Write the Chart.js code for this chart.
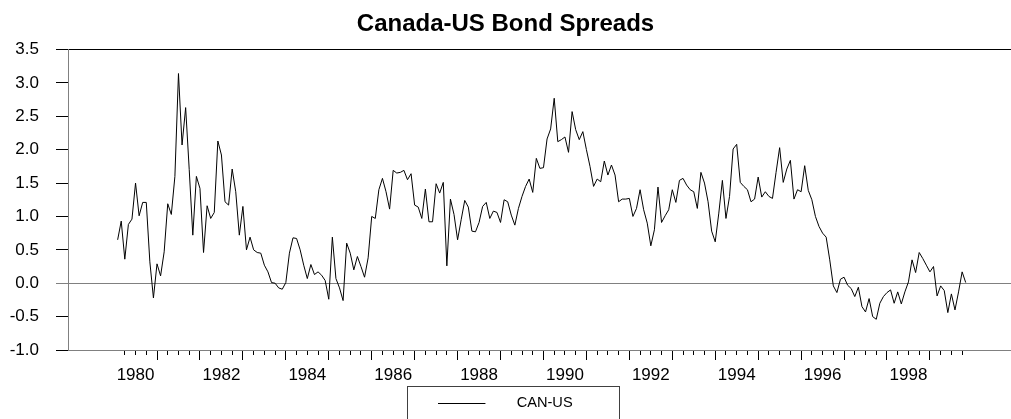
<!DOCTYPE html>
<html>
<head>
<meta charset="utf-8">
<title>Canada-US Bond Spreads</title>
<script src="https://cdn.jsdelivr.net/npm/chart.js@4.4.0/dist/chart.umd.min.js"></script>
<style>
    html, body { margin: 0; padding: 0; background: #fff; }
    #wrap { position: relative; width: 1011px; height: 419px; }
</style>
</head>
<body>
<div id="wrap"><canvas id="spreadChart"></canvas></div>
<script>
// monthly CAN-US spread
// Feb 1980 .. Dec 1989
const canUs80s = [
    0.65, 0.93, 0.36, 0.88, 0.96, 1.50, 1.01, 1.21, 1.21, 0.32, -0.22,
    0.29, 0.11, 0.47, 1.19, 1.03, 1.60, 3.14, 2.07, 2.63, 1.70, 0.72, 1.60,
    1.42, 0.46, 1.16, 0.97, 1.06, 2.13, 1.92, 1.22, 1.17, 1.71, 1.37, 0.72,
    1.15, 0.50, 0.69, 0.50, 0.46, 0.45, 0.27, 0.17, 0.01, 0.00, -0.07, -0.09,
    0.01, 0.45, 0.68, 0.67, 0.50, 0.27, 0.07, 0.28, 0.13, 0.17, 0.12, 0.04,
    -0.24, 0.69, 0.07, -0.07, -0.26, 0.60, 0.45, 0.20, 0.40, 0.25, 0.09, 0.38,
    1.00, 0.97, 1.40, 1.57, 1.37, 1.11, 1.69, 1.65, 1.66, 1.69, 1.55, 1.64,
    1.17, 1.14, 0.97, 1.41, 0.92, 0.92, 1.49, 1.35, 1.51, 0.26, 1.26, 1.03,
    0.65, 0.95, 1.24, 1.14, 0.78, 0.77, 0.91, 1.15, 1.21, 0.97, 1.08, 1.06,
    0.91, 1.25, 1.22, 1.02, 0.87, 1.12, 1.30, 1.45, 1.56, 1.36, 1.87, 1.72
];
// Jan 1990 .. Nov 1999
const canUs90s = [
    1.73, 2.16, 2.31, 2.77, 2.12, 2.15, 2.19, 1.96, 2.57, 2.30, 2.15, 2.27,
    2.00, 1.75, 1.45, 1.56, 1.52, 1.83, 1.62, 1.77, 1.62, 1.22, 1.26, 1.26,
    1.27, 1.00, 1.12, 1.40, 1.10, 0.90, 0.56, 0.80, 1.44, 0.91, 1.01, 1.10,
    1.40, 1.21, 1.54, 1.57, 1.47, 1.40, 1.37, 1.12, 1.66, 1.50, 1.22, 0.78,
    0.62, 1.05, 1.54, 0.97, 1.30, 2.01, 2.08, 1.51, 1.45, 1.40, 1.22, 1.26,
    1.59, 1.29, 1.37, 1.30, 1.27, 1.66, 2.03, 1.51, 1.71, 1.84, 1.26, 1.40,
    1.37, 1.76, 1.39, 1.25, 1.00, 0.85, 0.75, 0.69, 0.35, -0.04, -0.14, 0.06,
    0.09, -0.03, -0.08, -0.20, -0.06, -0.35, -0.43, -0.23, -0.50, -0.54, -0.30, -0.20,
    -0.14, -0.10, -0.30, -0.13, -0.31, -0.13, 0.02, 0.35, 0.16, 0.46, 0.37, 0.27,
    0.17, 0.25, -0.19, -0.04, -0.11, -0.44, -0.16, -0.40, -0.13, 0.17, 0.01
];
const firstYear = 1980;
const firstMonth = 2;
const yearLabels = ['1980', '1982', '1984', '1986', '1988', '1990', '1992', '1994', '1996', '1998'];
const seriesName = 'CAN-US';
const chartTitle = 'Canada-US Bond Spreads';

const FONT = '"Liberation Sans", Arial, Helvetica, sans-serif';
const GREY = '#808080';
const X_MIN = 1978.927;
const X_MAX = 2000.888;

const values = canUs80s.concat(canUs90s);
const points = values.map((v, k) => ({ x: firstYear + (firstMonth - 1 + k) / 12, y: v }));
const firstX = points[0].x;
const lastX = points[points.length - 1].x;

// quarter marks inside the data span
let quarters = [];
for (let q = firstYear * 4; q <= Math.ceil(lastX) * 4; q++) {
    let t = q / 4;
    if (t > firstX && t <= lastX) quarters.push(t);
}
const minorTicks = quarters.filter(t => t % 1 !== 0);
const majorTicks = quarters.filter(t => t % 1 === 0);

// legend sample: short line with a gap before the text
const sample = document.createElement('canvas');
sample.width = 71;
sample.height = 1;
const sctx = sample.getContext('2d');
sctx.fillStyle = '#000';
sctx.fillRect(0, 0, 47, 1);

const legendFrame = {
    id: 'legendFrame',
    afterDraw: function (chart) {
        const lg = chart.legend;
        if (!lg || !lg.legendHitBoxes.length) return;
        const hb = lg.legendHitBoxes[0];
        const ctx = chart.ctx;
        const left = Math.round(hb.left - 31) + 0.5;
        const right = Math.round(hb.left + hb.width + 46) + 0.5;
        ctx.save();
        ctx.strokeStyle = '#404040';
        ctx.lineWidth = 1;
        ctx.strokeRect(left, Math.round(lg.top) + 0.5, right - left, lg.height + 10);
        ctx.restore();
    }
};

function flatAxis(ticksAt, len) {
    return {
        type: 'linear',
        position: 'bottom',
        weight: 0,
        min: X_MIN,
        max: X_MAX,
        afterBuildTicks: function (s) { s.ticks = ticksAt.map(v => ({ value: v })); },
        afterFit: function (s) { s.height = 0; s.paddingLeft = 0; s.paddingRight = 0; },
        ticks: { display: false },
        grid: { drawOnChartArea: false, tickLength: len, tickColor: '#000', tickWidth: 1 },
        border: { display: false }
    };
}

new Chart(document.getElementById('spreadChart'), {
    type: 'line',
    data: {
        datasets: [
            {
                label: seriesName,
                data: points,
                borderColor: '#000',
                backgroundColor: '#000',
                borderWidth: 1,
                pointRadius: 0,
                tension: 0,
                xAxisID: 'x',
                yAxisID: 'y'
            }
        ]
    },
    options: {
        responsive: true,
        maintainAspectRatio: false,
        animation: false,
        devicePixelRatio: 1,
        layout: { padding: 0 },
        plugins: {
            title: {
                display: true,
                text: chartTitle,
                color: '#000',
                font: { family: FONT, size: 24, weight: 'bold' },
                padding: { top: 10, bottom: 10.7 }
            },
            legend: {
                position: 'bottom',
                maxHeight: 33,
                labels: {
                    usePointStyle: true,
                    pointStyle: sample,
                    pointStyleWidth: 71,
                    padding: 10,
                    color: '#000',
                    font: { family: FONT, size: 14.6 }
                }
            },
            tooltip: { enabled: false }
        },
        scales: {
            xMinor: flatAxis(minorTicks, 5),
            xMajor: flatAxis(majorTicks, 10),
            x: {
                type: 'linear',
                position: 'bottom',
                weight: 2,
                min: X_MIN,
                max: X_MAX,
                afterBuildTicks: function (s) {
                    s.ticks = yearLabels.map(l => ({ value: Number(l) + 0.5 }));
                },
                afterFit: function (s) { s.height = 36; s.paddingLeft = 0; s.paddingRight = 0; },
                ticks: {
                    autoSkip: false,
                    maxRotation: 0,
                    padding: 5,
                    color: '#000',
                    font: { family: FONT, size: 17 },
                    callback: (v, i) => yearLabels[i]
                },
                grid: { drawOnChartArea: false, tickLength: 10, tickColor: 'rgba(0,0,0,0)' },
                border: { display: true, color: GREY, width: 1 }
            },
            y: {
                type: 'linear',
                position: 'left',
                min: -1,
                max: 3.5,
                afterFit: function (s) { s.width = 68; },
                ticks: {
                    stepSize: 0.5,
                    padding: 17,
                    color: '#000',
                    font: { family: FONT, size: 17 },
                    callback: v => v.toFixed(1)
                },
                grid: {
                    drawOnChartArea: true,
                    tickLength: 12,
                    lineWidth: 1,
                    color: c => c.tick && c.tick.value === 0 ? GREY : (c.tick && c.tick.value === 3.5 ? '#000' : 'rgba(0,0,0,0)'),
                    tickColor: c => c.tick && c.tick.value === 0 ? GREY : '#000'
                },
                border: { display: true, color: GREY, width: 1 }
            }
        }
    },
    plugins: [legendFrame]
});
</script>
</body>
</html>
